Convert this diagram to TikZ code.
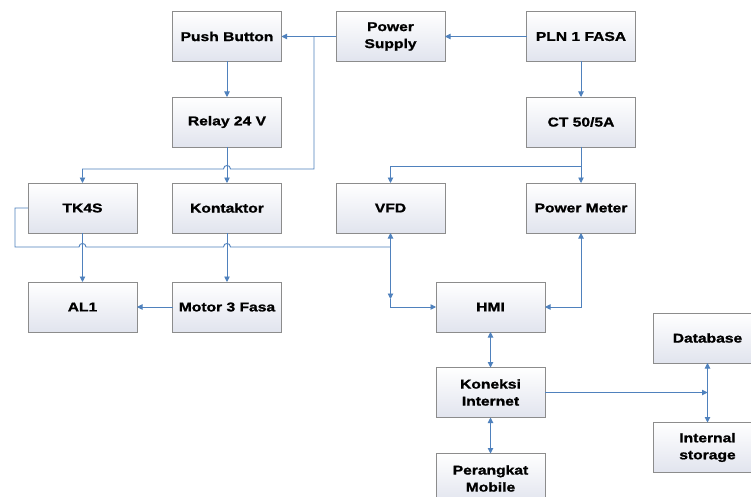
\documentclass[tikz,border=0pt]{standalone}
\usepackage{fontspec}
\setmainfont{Liberation Sans}[FakeStretch=1.22,BoldFeatures={FakeBold=1.2}]
\usetikzlibrary{arrows.meta,calc}
\definecolor{lnc}{HTML}{4F81BD}
\definecolor{bdc}{HTML}{8C8C8C}
\definecolor{fillb}{HTML}{E1E4EE}
\begin{document}
\begin{tikzpicture}[x=1pt,y=-1pt,
 box/.style={draw=bdc,line width=0.8pt,top color=white,bottom color=fillb,minimum width=109pt,minimum height=50pt,inner sep=0pt,outer sep=0pt,align=center,font=\bfseries\fontsize{12.8}{17}\selectfont},
 conn/.style={draw=lnc,line width=0.9pt},
 arr/.style={conn,-{Triangle[length=5.5pt,width=5.5pt]}},
 darr/.style={conn,{Triangle[length=5.5pt,width=5.5pt]}-{Triangle[length=5.5pt,width=5.5pt]}}]
\useasboundingbox (0,0) rectangle (751,497);
\clip (0,0) rectangle (751,497);
\fill[white] (0,0) rectangle (751,497);
% boxes
\node[box] (pb) at (227,36.5) {Push Button};
\node[box] (relay) at (227,122) {Relay 24 V};
\node[box] (ps) at (390.5,36.5) {Power\\Supply};
\node[box] (pln) at (581,36.5) {PLN 1 FASA};
\node[box] (ct) at (581,122) {CT 50/5A};
\node[box] (tk) at (82.5,208) {TK4S};
\node[box] (kon) at (227,208) {Kontaktor};
\node[box] (vfd) at (390.5,208) {VFD};
\node[box] (pm) at (581,208) {Power Meter};
\node[box] (al) at (82.5,307) {AL1};
\node[box] (mot) at (227,307) {Motor 3 Fasa};
\node[box] (hmi) at (490.5,307) {HMI};
\node[box] (net) at (490.5,392.5) {Koneksi\\Internet};
\node[box] (mob) at (490.5,478.5) {Perangkat\\Mobile};
\node[box] (db) at (707.5,338) {Database};
\node[box] (st) at (707.5,447.5) {Internal\\storage};
% junctions
\coordinate (j1) at (314,36.5);
\coordinate (j2) at (581,166);
\coordinate (v1) at (390.5,299);
\coordinate (vj) at (390.5,247);
\coordinate (j3) at (707.5,392.5);
% connectors
\draw[arr] (pln.west) -- (ps.east);
\draw[arr] (ps.west) -- (pb.east);
\draw[arr] (pb.south) -- (relay.north);
\draw[arr] (relay.south) -- (kon.north);
\draw[arr] (pln.south) -- (ct.north);
\draw[arr] (ct.south) -- (pm.north);
\draw[arr] (j2) -| (vfd.north);
\draw[arr] (j1) -- (314,169) -- (230.5,169) .. controls (230.5,164.3) and (223.5,164.3) .. (223.5,169) -- (82.5,169) -- (tk.north);
\draw[conn] (tk.west) -- (15,208) -- (15,247) -- (79,247) .. controls (79,242.3) and (86,242.3) .. (86,247) -- (223.5,247) .. controls (223.5,242.3) and (230.5,242.3) .. (230.5,247) -- (vj);
\draw[arr] (tk.south) -- (al.north);
\draw[arr] (kon.south) -- (mot.north);
\draw[arr] (mot.west) -- (al.east);
\draw[darr] (vfd.south) -- (v1);
\draw[arr] (v1) |- (hmi.west);
\draw[darr] (pm.south) |- (hmi.east);
\draw[darr] (hmi.south) -- (net.north);
\draw[darr] (net.south) -- (mob.north);
\draw[arr] (net.east) -- (j3);
\draw[darr] (db.south) -- (st.north);
\end{tikzpicture}
\end{document}
